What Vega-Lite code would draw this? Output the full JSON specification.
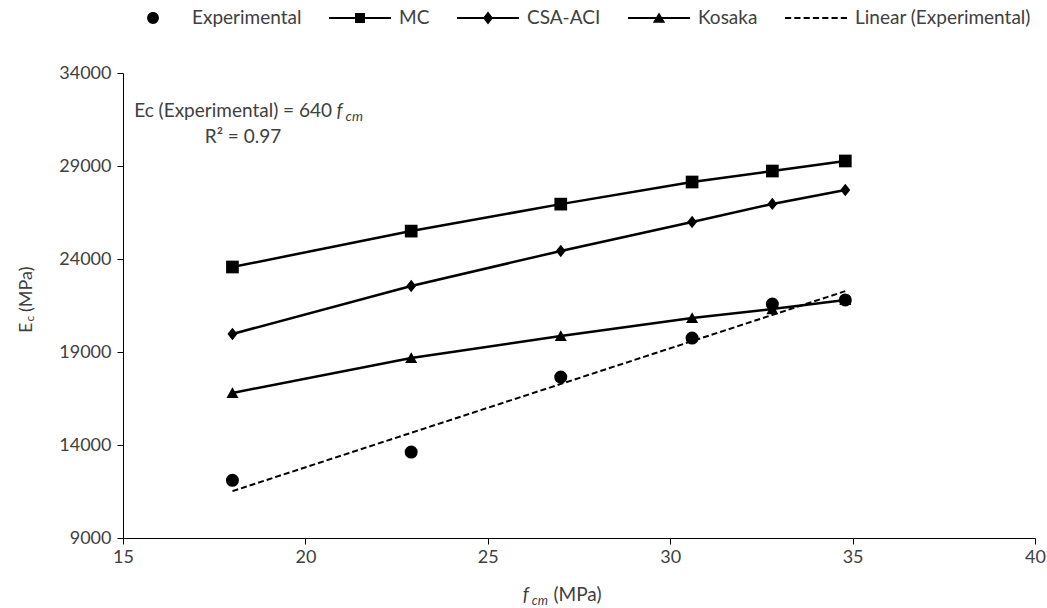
{
  "$schema": "https://vega.github.io/schema/vega-lite/v6.json",
  "width": 912,
  "height": 465,
  "autosize": {"type": "none"},
  "padding": {"left": 123, "top": 73, "right": 12, "bottom": 70},
  "background": "white",
  "config": {
    "view": {"stroke": null},
    "font": "Lato",
    "text": {"font": "Lato", "color": "#404040"}
  },
  "datasets": {
    "pts": [
      {"fcm": 18.0, "Ec": 12100, "series": "Experimental"},
      {"fcm": 22.9, "Ec": 13620, "series": "Experimental"},
      {"fcm": 27.0, "Ec": 17650, "series": "Experimental"},
      {"fcm": 30.6, "Ec": 19750, "series": "Experimental"},
      {"fcm": 32.8, "Ec": 21580, "series": "Experimental"},
      {"fcm": 34.8, "Ec": 21800, "series": "Experimental"},
      {"fcm": 18.0, "Ec": 23570, "series": "MC"},
      {"fcm": 22.9, "Ec": 25500, "series": "MC"},
      {"fcm": 27.0, "Ec": 26950, "series": "MC"},
      {"fcm": 30.6, "Ec": 28140, "series": "MC"},
      {"fcm": 32.8, "Ec": 28730, "series": "MC"},
      {"fcm": 34.8, "Ec": 29270, "series": "MC"},
      {"fcm": 18.0, "Ec": 19970, "series": "CSA-ACI"},
      {"fcm": 22.9, "Ec": 22550, "series": "CSA-ACI"},
      {"fcm": 27.0, "Ec": 24430, "series": "CSA-ACI"},
      {"fcm": 30.6, "Ec": 25990, "series": "CSA-ACI"},
      {"fcm": 32.8, "Ec": 26960, "series": "CSA-ACI"},
      {"fcm": 34.8, "Ec": 27710, "series": "CSA-ACI"},
      {"fcm": 18.0, "Ec": 16800, "series": "Kosaka"},
      {"fcm": 22.9, "Ec": 18680, "series": "Kosaka"},
      {"fcm": 27.0, "Ec": 19860, "series": "Kosaka"},
      {"fcm": 30.6, "Ec": 20830, "series": "Kosaka"},
      {"fcm": 32.8, "Ec": 21310, "series": "Kosaka"},
      {"fcm": 34.8, "Ec": 21800, "series": "Kosaka"}
    ],
    "trend": [
      {"fcm": 18.0, "Ec": 11520},
      {"fcm": 34.8, "Ec": 22272}
    ],
    "one": [{}]
  },
  "layer": [
    {
      "data": {"name": "pts"},
      "transform": [{"filter": "datum.series !== 'Experimental'"}],
      "mark": {"type": "line", "color": "#000", "strokeWidth": 2.5},
      "encoding": {
        "x": {
          "field": "fcm", "type": "quantitative",
          "scale": {"domain": [15, 40], "nice": false, "zero": false},
          "axis": {"values": [15, 20, 25, 30, 35, 40], "title": null, "grid": false, "domainColor": "#000", "tickColor": "#000", "tickSize": 6, "labelFontSize": 18, "labelFont": "Lato", "labelColor": "#404040", "labelPadding": 4, "labelFlush": false}
        },
        "y": {
          "field": "Ec", "type": "quantitative",
          "scale": {"domain": [9000, 34000], "nice": false, "zero": false},
          "axis": {"values": [9000, 14000, 19000, 24000, 29000, 34000], "title": null, "grid": false, "domainColor": "#000", "tickColor": "#000", "tickSize": 6, "labelFontSize": 18, "labelFont": "Lato", "labelColor": "#404040", "labelPadding": 6, "format": "d"}
        },
        "detail": {"field": "series"}
      }
    },
    {
      "data": {"name": "trend"},
      "mark": {"type": "line", "color": "#000", "strokeWidth": 2, "strokeDash": [6, 3]},
      "encoding": {
        "x": {"field": "fcm", "type": "quantitative"},
        "y": {"field": "Ec", "type": "quantitative"}
      }
    },
    {
      "data": {"name": "pts"},
      "mark": {"type": "point", "filled": true, "color": "#000", "opacity": 1},
      "encoding": {
        "x": {"field": "fcm", "type": "quantitative"},
        "y": {"field": "Ec", "type": "quantitative"},
        "shape": {
          "field": "series", "type": "nominal",
          "scale": {"domain": ["Experimental", "MC", "CSA-ACI", "Kosaka"], "range": ["circle", "square", "M0,-1L0.8,0L0,1L-0.8,0Z", "M0,-0.95L1,0.85L-1,0.85Z"]},
          "legend": null
        },
        "size": {
          "field": "series", "type": "nominal",
          "scale": {"domain": ["Experimental", "MC", "CSA-ACI", "Kosaka"], "range": [170, 144, 300, 196]},
          "legend": null
        }
      }
    },
    {
      "data": {"name": "pts"},
      "mark": {"type": "point", "filled": true, "color": "#000", "opacity": 0},
      "encoding": {
        "x": {"field": "fcm", "type": "quantitative"},
        "y": {"field": "Ec", "type": "quantitative"},
        "shape": {
          "field": "series", "type": "nominal",
          "scale": {
            "domain": ["Experimental", "MC", "CSA-ACI", "Kosaka", "Linear (Experimental)"],
            "range": [
              "M-0.19,0A0.19,0.19 0 1,0 0.19,0A0.19,0.19 0 1,0 -0.19,0Z",
              "M-1,-0.035H1V0.035H-1ZM-0.16,-0.16H0.16V0.16H-0.16Z",
              "M-1,-0.035H1V0.035H-1ZM0,-0.21L0.16,0L0,0.21L-0.16,0Z",
              "M-1,-0.035H1V0.035H-1ZM0,-0.18L0.2,0.15H-0.2Z",
              "M-1,-0.03H-0.8V0.03H-1ZM-0.7,-0.03H-0.5V0.03H-0.7ZM-0.4,-0.03H-0.2V0.03H-0.4ZM-0.1,-0.03H0.1V0.03H-0.1ZM0.2,-0.03H0.4V0.03H0.2ZM0.5,-0.03H0.7V0.03H0.5ZM0.8,-0.03H1V0.03H0.8Z"
            ]
          },
          "legend": {
            "orient": "none", "legendX": -1, "legendY": -86, "direction": "horizontal",
            "title": null, "symbolSize": 3844, "labelFontSize": 19, "labelFont": "Lato",
            "labelColor": "#404040", "labelOffset": 8, "columnPadding": 27, "padding": 0, "labelLimit": 400,
            "symbolStrokeWidth": 0, "symbolFillColor": "#000", "symbolOpacity": 1,
            "encode": {"symbols": {"fill": {"value": "#000"}, "opacity": {"value": 1}}}
          }
        }
      }
    },
    {
      "data": {"name": "one"},
      "mark": {"type": "text", "align": "right", "baseline": "alphabetic", "fontSize": 19},
      "encoding": {"x": {"datum": 20.73, "type": "quantitative"}, "y": {"datum": 31634, "type": "quantitative"}, "text": {"value": "Ec (Experimental) = 640"}}
    },
    {
      "data": {"name": "one"},
      "mark": {"type": "text", "align": "left", "baseline": "alphabetic", "fontSize": 19, "fontStyle": "italic"},
      "encoding": {"x": {"datum": 20.85, "type": "quantitative"}, "y": {"datum": 31634, "type": "quantitative"}, "text": {"value": "f"}}
    },
    {
      "data": {"name": "one"},
      "mark": {"type": "text", "align": "left", "baseline": "alphabetic", "fontSize": 14, "fontStyle": "italic"},
      "encoding": {"x": {"datum": 21.1, "type": "quantitative"}, "y": {"datum": 31419, "type": "quantitative"}, "text": {"value": "cm"}}
    },
    {
      "data": {"name": "one"},
      "mark": {"type": "text", "align": "center", "baseline": "alphabetic", "fontSize": 19},
      "encoding": {"x": {"datum": 18.29, "type": "quantitative"}, "y": {"datum": 30237, "type": "quantitative"}, "text": {"value": "R² = 0.97"}}
    },
    {
      "data": {"name": "one"},
      "mark": {"type": "text", "align": "left", "baseline": "alphabetic", "fontSize": 18, "angle": 270},
      "encoding": {"x": {"datum": 12.507, "type": "quantitative"}, "y": {"datum": 20022, "type": "quantitative"}, "text": {"value": "E"}}
    },
    {
      "data": {"name": "one"},
      "mark": {"type": "text", "align": "left", "baseline": "alphabetic", "fontSize": 12, "angle": 270},
      "encoding": {"x": {"datum": 12.562, "type": "quantitative"}, "y": {"datum": 20640, "type": "quantitative"}, "text": {"value": "c"}}
    },
    {
      "data": {"name": "one"},
      "mark": {"type": "text", "align": "left", "baseline": "alphabetic", "fontSize": 18, "angle": 270},
      "encoding": {"x": {"datum": 12.507, "type": "quantitative"}, "y": {"datum": 21150, "type": "quantitative"}, "text": {"value": "(MPa)"}}
    },
    {
      "data": {"name": "one"},
      "mark": {"type": "text", "align": "left", "baseline": "alphabetic", "fontSize": 19, "fontStyle": "italic"},
      "encoding": {"x": {"datum": 25.96, "type": "quantitative"}, "y": {"datum": 5613, "type": "quantitative"}, "text": {"value": "f"}}
    },
    {
      "data": {"name": "one"},
      "mark": {"type": "text", "align": "left", "baseline": "alphabetic", "fontSize": 13, "fontStyle": "italic"},
      "encoding": {"x": {"datum": 26.205, "type": "quantitative"}, "y": {"datum": 5398, "type": "quantitative"}, "text": {"value": "cm"}}
    },
    {
      "data": {"name": "one"},
      "mark": {"type": "text", "align": "left", "baseline": "alphabetic", "fontSize": 19},
      "encoding": {"x": {"datum": 26.80, "type": "quantitative"}, "y": {"datum": 5613, "type": "quantitative"}, "text": {"value": "(MPa)"}}
    }
  ],
  "resolve": {"scale": {"shape": "independent", "size": "independent"}}
}
